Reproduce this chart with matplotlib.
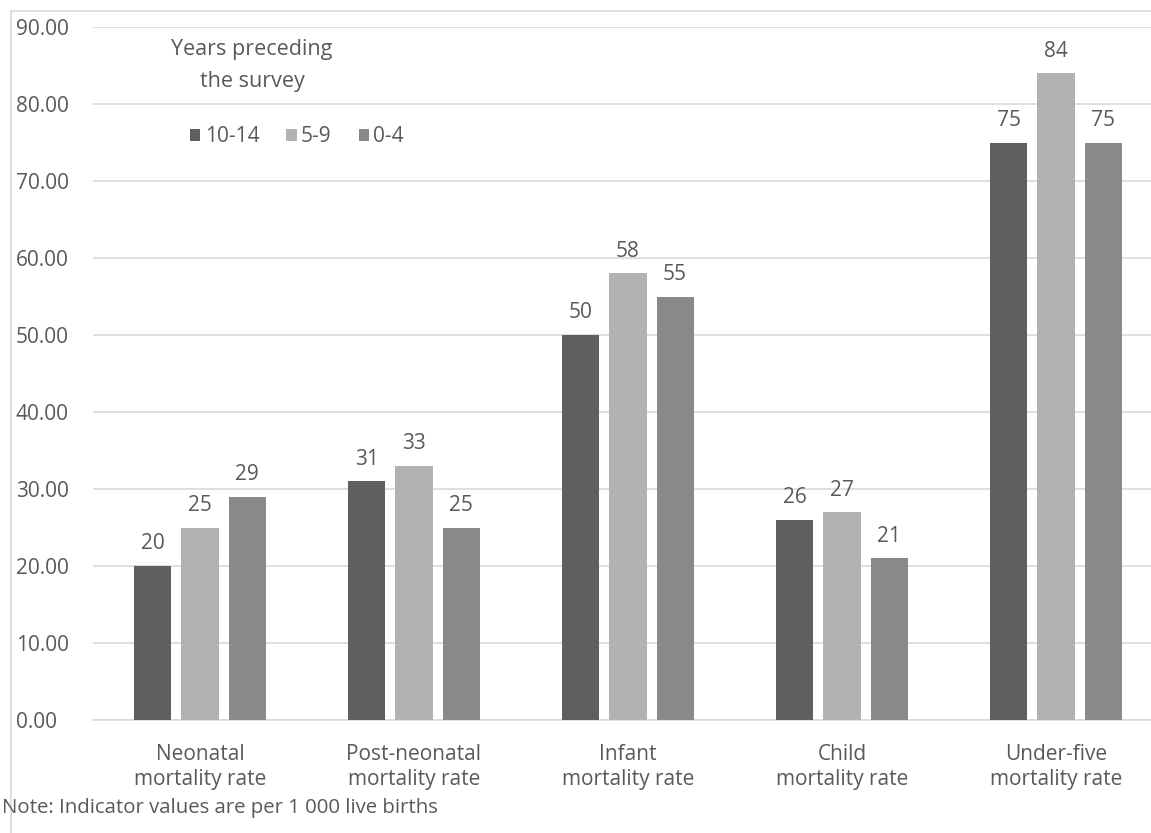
import matplotlib.pyplot as plt
import matplotlib.patches as mpatches
import numpy as np

plt.rcParams['font.family'] = ['Open Sans', 'DejaVu Sans']

# data
categories = ['Neonatal\nmortality rate', 'Post-neonatal\nmortality rate',
              'Infant\nmortality rate', 'Child\nmortality rate',
              'Under-five\nmortality rate']
series_names = ['10-14', '5-9', '0-4']
vals_10_14 = [20, 31, 50, 26, 75]
vals_5_9 = [25, 33, 58, 27, 84]
vals_0_4 = [29, 25, 55, 21, 75]
colors = ['#5f5f5f', '#b2b2b2', '#898989']
txt = '#595959'
grid_c = '#d9d9d9'
fs = 15

W, H = 1151, 833
fig = plt.figure(figsize=(W / 100, H / 100), dpi=100)

# outer chart frame
fig.patches.append(mpatches.Rectangle((11 / W, -0.1), 2, 1.1 - 11 / H,
                                      transform=fig.transFigure, fill=False,
                                      edgecolor=grid_c, linewidth=1.2))

ax = fig.add_axes([93 / W, (H - 720) / H, 1070 / W, 693 / H])

x = np.arange(len(categories))
bw = 0.173
off = 0.22
for i, (vals, name) in enumerate(zip([vals_10_14, vals_5_9, vals_0_4], series_names)):
    pos = x + (i - 1) * off
    ax.bar(pos, vals, bw, color=colors[i], label=name, zorder=3)
    for p, v in zip(pos, vals):
        ax.text(p, v + 1.5, str(v), ha='center', va='bottom', fontsize=fs, color=txt)

ax.set_ylim(0, 90)
ax.set_xlim(-0.5, 4.5)
ax.set_yticks(np.arange(0, 91, 10))
ax.set_yticklabels(['%.2f' % t for t in np.arange(0, 91, 10)])
ax.yaxis.grid(True, color=grid_c, linewidth=1.2, zorder=0)
ax.set_xticks(x)
ax.set_xticklabels(categories, linespacing=1.3)
ax.tick_params(length=0, labelsize=fs, labelcolor=txt)
ax.tick_params(axis='x', pad=17)
ax.tick_params(axis='y', pad=0)
for lab in ax.get_yticklabels():
    lab.set_horizontalalignment('left')
    lab.set_x(-77 / 1070)
for s in ['top', 'right', 'left']:
    ax.spines[s].set_visible(False)
ax.spines['bottom'].set_color(grid_c)
ax.spines['bottom'].set_linewidth(1.2)

# legend title (two centred lines) and entries
ax.text(159 / 1070, (720 - 50) / 693, 'Years preceding', transform=ax.transAxes,
        ha='center', va='center', fontsize=fs + 0.5, color=txt)
ax.text(159 / 1070, (720 - 82) / 693, 'the survey', transform=ax.transAxes,
        ha='center', va='center', fontsize=fs + 0.5, color=txt)
leg = ax.legend(ncol=3, frameon=False, loc='center left',
                bbox_to_anchor=(97 / 1070, (720 - 137) / 693),
                fontsize=fs, handlelength=0.5, handleheight=0.5,
                handletextpad=0.2, columnspacing=1.3, borderpad=0,
                borderaxespad=0, labelcolor=txt)

fig.text(2 / W, 1 - 808 / H, 'Note: Indicator values are per 1 000 live births',
         fontsize=fs - 0.3, color=txt, va='center', ha='left')

fig.savefig('out.png', dpi=100)
